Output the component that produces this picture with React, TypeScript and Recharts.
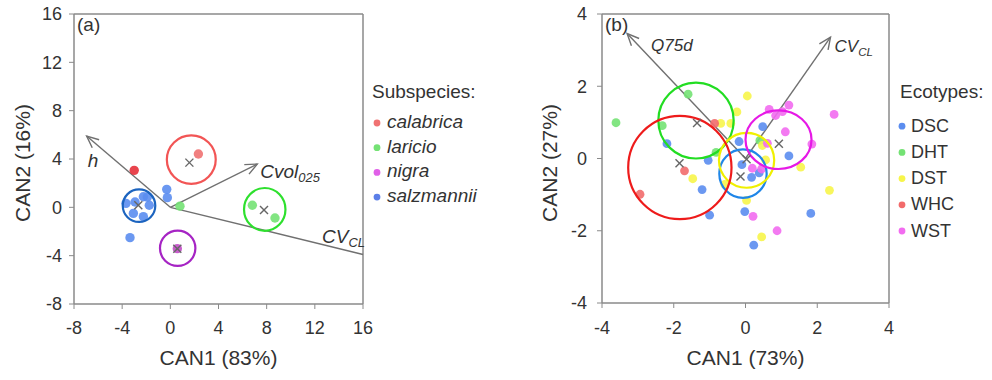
import React from "react";
import { ScatterChart, Scatter, XAxis, YAxis, ReferenceLine, Label } from "recharts";

const FONT = '"Liberation Sans", Arial, Helvetica, sans-serif';
const AXIS = "#8a8a8a";
const INK = "#333333";

type Pt = { x: number; y: number };
type Region = { x: number; y: number; rx: number; ry: number };
type Vec = { label: string; sub: string; x: number; y: number };

// ---- (a) subspecies ----
const A_TICKS = [-8, -4, 0, 4, 8, 12, 16];
const SUBSPECIES = ["calabrica", "laricio", "nigra", "salzmannii"];
const calabricaPts: Pt[] = [{ x: -3.0, y: 3.06 }, { x: 2.33, y: 4.41 }];
const laricioPts: Pt[] = [{ x: 0.8, y: 0.1 }, { x: 6.81, y: 0.17 }, { x: 8.69, y: -0.88 }];
const nigraPts: Pt[] = [{ x: 0.58, y: -3.42 }];
const salzmanniiPts: Pt[] = [
  { x: -3.68, y: 0.33 }, { x: -2.93, y: 0.44 }, { x: -2.24, y: 0.88 }, { x: -1.91, y: 0.85 },
  { x: -1.75, y: 0.17 }, { x: -3.07, y: -0.5 }, { x: -2.24, y: -0.77 },
  { x: -0.3, y: 1.49 }, { x: -0.25, y: 0.8 }, { x: -3.35, y: -2.51 },
];
const subspeciesCentroids: Pt[] = [
  { x: 1.58, y: 3.7 }, { x: 7.78, y: -0.22 }, { x: 0.58, y: -3.42 }, { x: -2.66, y: 0.17 },
];
const subspeciesRegions: Region[] = [
  { x: 1.74, y: 3.95, rx: 2.03, ry: 2.01 },
  { x: 7.84, y: -0.17, rx: 1.72, ry: 1.77 },
  { x: 0.61, y: -3.39, rx: 1.47, ry: 1.46 },
  { x: -2.6, y: 0.14, rx: 1.35, ry: 1.35 },
];
const subspeciesVectors: Vec[] = [
  { label: "h", sub: "", x: -6.95, y: 5.9 },
  { label: "Cvol", sub: "025", x: 7.22, y: 3.58 },
  { label: "CV", sub: "CL", x: 16, y: -3.9 },
];

// ---- (b) ecotypes ----
const B_TICKS = [-4, -2, 0, 2, 4];
const ECOTYPES = ["DSC", "DHT", "DST", "WHC", "WST"];
const dscPts: Pt[] = [
  { x: -2.19, y: 0.41 }, { x: -1.04, y: -0.05 }, { x: -1.21, y: -0.86 }, { x: -1.0, y: -1.57 },
  { x: -0.18, y: 0.47 }, { x: -0.1, y: -0.17 }, { x: 0.17, y: -0.52 }, { x: 0.38, y: -0.4 },
  { x: 0.48, y: 0.88 }, { x: 1.21, y: 0.07 }, { x: -0.02, y: -1.47 }, { x: 0.23, y: -2.4 },
  { x: 1.82, y: -1.52 },
];
const dhtPts: Pt[] = [
  { x: -3.61, y: 0.99 }, { x: -1.6, y: 1.78 }, { x: -2.32, y: 0.91 }, { x: -0.82, y: 0.17 },
  { x: 0.4, y: 0.5 },
];
const dstPts: Pt[] = [
  { x: 0.05, y: 1.73 }, { x: -0.24, y: 1.29 }, { x: -0.69, y: 0.97 }, { x: -0.41, y: 0.97 },
  { x: -1.47, y: -0.56 }, { x: 1.54, y: -0.24 }, { x: 2.34, y: -0.88 }, { x: 0.45, y: -2.17 },
  { x: 0.03, y: -1.16 }, { x: 0.47, y: 0.36 }, { x: 0.56, y: -0.04 }, { x: -0.58, y: -0.72 },
];
const whcPts: Pt[] = [{ x: -2.94, y: -0.99 }, { x: -1.7, y: -0.34 }, { x: -0.86, y: 0.97 }];
const wstPts: Pt[] = [
  { x: 0.66, y: 1.36 }, { x: 1.21, y: 1.48 }, { x: 0.84, y: 1.19 }, { x: 1.03, y: 1.3 },
  { x: 2.47, y: 1.22 }, { x: 1.11, y: 0.74 }, { x: 1.85, y: 0.4 }, { x: 0.61, y: 0.42 },
  { x: 0.19, y: -0.27 }, { x: 0.45, y: -0.29 }, { x: 0.21, y: -1.6 }, { x: 0.88, y: -2.0 },
];
const ecotypeCentroids: Pt[] = [
  { x: -0.14, y: -0.5 }, { x: -1.35, y: 0.98 }, { x: 0.03, y: -0.02 }, { x: -1.84, y: -0.13 },
  { x: 0.93, y: 0.41 },
];
const ecotypeRegions: Region[] = [
  { x: -0.07, y: -0.42, rx: 0.66, ry: 0.67 },
  { x: -1.38, y: 1.05, rx: 1.05, ry: 1.05 },
  { x: 0.03, y: -0.05, rx: 0.77, ry: 0.76 },
  { x: -1.83, y: -0.25, rx: 1.44, ry: 1.43 },
  { x: 0.92, y: 0.52, rx: 0.92, ry: 0.81 },
];
const ecotypeVectors: Vec[] = [
  { label: "Q75d", sub: "", x: -3.3, y: 3.46 },
  { label: "CV", sub: "CL", x: 2.37, y: 3.36 },
];

// colours
const A_POINT = ["#f07272", "#74e274", "#c24ac6", "#5b8def"];
const A_RING = ["#f25555", "#2ee02e", "#a624c4", "#1c64bf"];
const A_KEY = ["#f07272", "#74e274", "#e060e8", "#5b7fe8"];
const B_POINT = ["#5b8def", "#74e274", "#f7f54a", "#f26b6b", "#f26cf0"];
const B_RING = ["#1f86e8", "#22dd22", "#f0f000", "#ee1b1b", "#e619e6"];

const dot = (fill: string, r: number) => (p: any) =>
  <circle cx={p.cx} cy={p.cy} r={r} fill={fill} fillOpacity={0.9} />;

const ring = (color: string, kx: number, ky: number) => (p: any) =>
  <ellipse cx={p.cx} cy={p.cy} rx={p.payload.rx * kx} ry={p.payload.ry * ky}
    fill="none" stroke={color} strokeWidth={2.2} />;

const cross = (p: any) => {
  const s = 4;
  return (
    <g stroke="#666" strokeWidth={1.4}>
      <line x1={p.cx - s} y1={p.cy - s} x2={p.cx + s} y2={p.cy + s} />
      <line x1={p.cx - s} y1={p.cy + s} x2={p.cx + s} y2={p.cy - s} />
    </g>
  );
};

function vectorShape(v: Vec, dx: number, dy: number, head: boolean, fs: number) {
  return (p: any) => {
    const { x1, y1, x2, y2 } = p;
    const ang = Math.atan2(y2 - y1, x2 - x1);
    const L = 13;
    const a = 0.42;
    const h1 = `${x2 - L * Math.cos(ang - a)},${y2 - L * Math.sin(ang - a)}`;
    const h2 = `${x2 - L * Math.cos(ang + a)},${y2 - L * Math.sin(ang + a)}`;
    return (
      <g>
        <line x1={x1} y1={y1} x2={x2} y2={y2} stroke="#707070" strokeWidth={1.4} />
        {head && <polyline points={`${h1} ${x2},${y2} ${h2}`} fill="none" stroke="#707070" strokeWidth={1.4} />}
        <text x={x2 + dx} y={y2 + dy} fontStyle="italic" fontSize={fs} fill={INK} fontFamily={FONT}>
          {v.label}
          {v.sub && <tspan dy={4} fontSize={fs * 0.68}>{v.sub}</tspan>}
        </text>
      </g>
    );
  };
}

const tickStyle = { fill: INK, fontSize: 18, fontFamily: FONT };

function PanelA() {
  const kx = 289 / 24;
  const ky = 290 / 24;
  const groups = [calabricaPts, laricioPts, nigraPts, salzmanniiPts];
  const vecOffsets = [[1, 31, 1], [3, 13.5, 1], [-41, -11, 0]];
  return (
    <ScatterChart width={390} height={380} margin={{ top: 14, right: 27, bottom: 0, left: 0 }}>
      <XAxis type="number" dataKey="x" domain={[-8, 16]} ticks={A_TICKS} interval={0} allowDataOverflow
        height={76} tickSize={5} tickMargin={12} tick={tickStyle}
        axisLine={{ stroke: AXIS, strokeWidth: 1.5 }} tickLine={{ stroke: AXIS }}>
        <Label content={(pr: any) => (
          <text x={pr.viewBox.x + pr.viewBox.width / 2} y={365} textAnchor="middle" fontSize={21} fill={INK} fontFamily={FONT}>CAN1 (83%)</text>
        )} />
      </XAxis>
      <YAxis type="number" dataKey="y" domain={[-8, 16]} ticks={A_TICKS} interval={0} allowDataOverflow
        width={74} tickSize={5} tickMargin={7} tick={tickStyle}
        axisLine={{ stroke: AXIS, strokeWidth: 1.5 }} tickLine={{ stroke: AXIS }}>
        <Label content={() => (
          <text x={22} y={163} textAnchor="middle" dominantBaseline="central" transform="rotate(-90 22 163)" fontSize={21} fill={INK} fontFamily={FONT}>CAN2 (16%)</text>
        )} />
      </YAxis>
      <ReferenceLine y={16} stroke={AXIS} strokeWidth={1.5} />
      <ReferenceLine x={16} stroke={AXIS} strokeWidth={1.5} />
      {subspeciesVectors.map((v, i) => (
        <ReferenceLine key={v.label} segment={[{ x: 0, y: 0 }, { x: v.x, y: v.y }]}
          shape={vectorShape(v, vecOffsets[i][0], vecOffsets[i][1], vecOffsets[i][2] === 1, 19)} />
      ))}
      {groups.map((g, i) => (
        <Scatter key={SUBSPECIES[i]} data={g} isAnimationActive={false}
          shape={(p: any) => (
            <circle cx={p.cx} cy={p.cy} r={4.7}
              fill={i === 0 && p.payload.x < 0 ? "#e5303a" : A_POINT[i]} fillOpacity={0.9} />
          )} />
      ))}
      {subspeciesRegions.map((r, i) => (
        <Scatter key={"ring" + i} data={[r]} isAnimationActive={false} shape={ring(A_RING[i], kx, ky)} />
      ))}
      <Scatter data={subspeciesCentroids} isAnimationActive={false} shape={cross} />
      <ReferenceLine y={16} stroke="none" label={{ value: "(a)", content: () => (
        <text x={77} y={31} fontSize={19} fill={INK} fontFamily={FONT}>(a)</text>
      ) }} />
    </ScatterChart>
  );
}

function PanelB() {
  const kx = 287 / 8;
  const ky = 289 / 8;
  const groups = [dscPts, dhtPts, dstPts, whcPts, wstPts];
  const vecOffsets = [[24, 17], [4, 15]];
  return (
    <ScatterChart width={411} height={380} margin={{ top: 14, right: 22, bottom: 0, left: 0 }}>
      <XAxis type="number" dataKey="x" domain={[-4, 4]} ticks={B_TICKS} interval={0} allowDataOverflow
        height={77} tickSize={5} tickMargin={13} tick={tickStyle}
        axisLine={{ stroke: AXIS, strokeWidth: 1.5 }} tickLine={{ stroke: AXIS }}>
        <Label content={(pr: any) => (
          <text x={pr.viewBox.x + pr.viewBox.width / 2} y={365} textAnchor="middle" fontSize={21} fill={INK} fontFamily={FONT}>CAN1 (73%)</text>
        )} />
      </XAxis>
      <YAxis type="number" dataKey="y" domain={[-4, 4]} ticks={B_TICKS} interval={0} allowDataOverflow
        width={102} tickSize={5} tickMargin={10} tick={tickStyle}
        axisLine={{ stroke: AXIS, strokeWidth: 1.5 }} tickLine={{ stroke: AXIS }}>
        <Label content={() => (
          <text x={49} y={163} textAnchor="middle" dominantBaseline="central" transform="rotate(-90 49 163)" fontSize={21} fill={INK} fontFamily={FONT}>CAN2 (27%)</text>
        )} />
      </YAxis>
      <ReferenceLine y={4} stroke={AXIS} strokeWidth={1.5} />
      <ReferenceLine x={4} stroke={AXIS} strokeWidth={1.5} />
      {groups.map((g, i) => (
        <Scatter key={ECOTYPES[i]} data={g} isAnimationActive={false} shape={dot(B_POINT[i], 4.4)} />
      ))}
      {ecotypeRegions.map((r, i) => (
        <Scatter key={"ring" + i} data={[r]} isAnimationActive={false} shape={ring(B_RING[i], kx, ky)} />
      ))}
      <Scatter data={ecotypeCentroids} isAnimationActive={false} shape={cross} />
      {ecotypeVectors.map((v, i) => (
        <ReferenceLine key={v.label} segment={[{ x: 0, y: 0 }, { x: v.x, y: v.y }]}
          shape={vectorShape(v, vecOffsets[i][0], vecOffsets[i][1], true, 17)} />
      ))}
      <ReferenceLine y={4} stroke="none" label={{ value: "(b)", content: () => (
        <text x={105} y={31} fontSize={19} fill={INK} fontFamily={FONT}>(b)</text>
      ) }} />
    </ScatterChart>
  );
}

function Legends() {
  return (
    <svg width={992} height={380} style={{ position: "absolute", left: 0, top: 0, pointerEvents: "none" }}>
      <text x={372} y={98} fontSize={19} fill={INK} fontFamily={FONT}>Subspecies:</text>
      {SUBSPECIES.map((s, i) => {
        const y = 128 + i * 24.7;
        return (
          <g key={s}>
            <circle cx={377} cy={y - 5} r={3.4} fill={A_KEY[i]} />
            <text x={387} y={y} fontSize={19} fontStyle="italic" fill={INK} fontFamily={FONT}>{s}</text>
          </g>
        );
      })}
      <text x={900} y={98} fontSize={19} fill={INK} fontFamily={FONT}>Ecotypes:</text>
      {ECOTYPES.map((s, i) => {
        const y = 131.7 + i * 26.2;
        return (
          <g key={s}>
            <circle cx={902} cy={y - 5.5} r={3.4} fill={B_POINT[i]} />
            <text x={911} y={y} fontSize={18} fill={INK} fontFamily={FONT}>{s}</text>
          </g>
        );
      })}
    </svg>
  );
}

export default function App() {
  return (
    <div style={{ position: "absolute", left: 0, top: 0, width: 992, height: 380, background: "#fff", fontFamily: FONT }}>
      <div style={{ position: "absolute", left: 0, top: 0 }}>
        <PanelA />
      </div>
      <div style={{ position: "absolute", left: 500, top: 0 }}>
        <PanelB />
      </div>
      <Legends />
    </div>
  );
}
